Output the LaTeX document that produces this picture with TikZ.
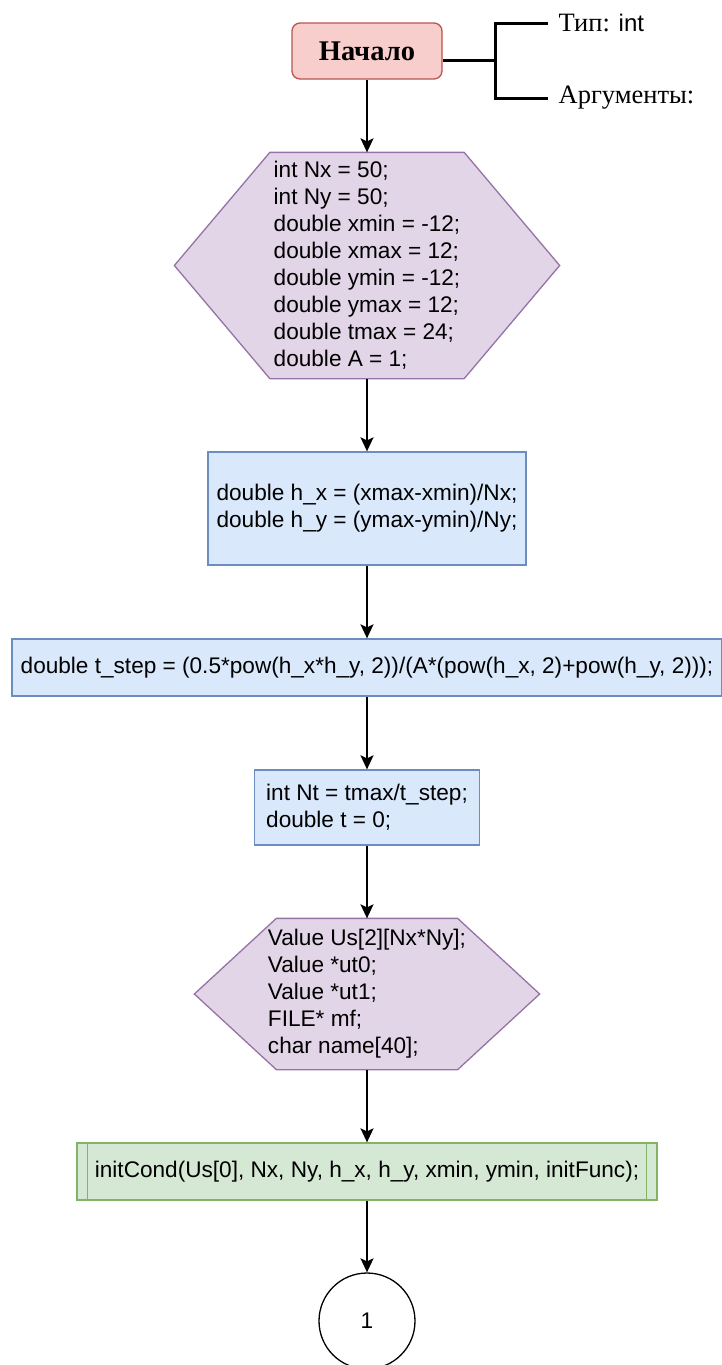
\documentclass[tikz,border=0pt]{standalone}
\usepackage{fontspec}
\setmainfont{Liberation Sans}
\newfontfamily\cyrserif{Liberation Serif}
\newfontfamily\codefont{Liberation Sans}
\usetikzlibrary{arrows.meta, backgrounds}

\definecolor{startfill}{HTML}{F8CECC}
\definecolor{startline}{HTML}{B85450}
\definecolor{declfill}{HTML}{E1D5E7}
\definecolor{declline}{HTML}{9673A6}
\definecolor{procfill}{HTML}{DAE8FC}
\definecolor{procline}{HTML}{6C8EBF}
\definecolor{callfill}{HTML}{D5E8D4}
\definecolor{callline}{HTML}{82B366}

\begin{document}
\begin{tikzpicture}[x=1pt, y=1pt, >={Stealth[length=14pt, width=13pt, inset=3pt]},
                    line width=1.8pt, font=\fontsize{22.6}{27}\selectfont]
\tikzstyle{every node}=[inner sep=0pt, line width=1.3pt]
\tikzstyle{terminal}=[shape=rectangle, rounded corners=8pt, draw=startline, fill=startfill,
                    minimum width=150pt, minimum height=56pt,
                    font=\cyrserif\bfseries\fontsize{28.5}{32}\selectfont]
\tikzstyle{decl}=[shape=rectangle, align=left]
\tikzstyle{proc}=[shape=rectangle, draw=procline, fill=procfill, align=left]
\tikzstyle{call}=[shape=rectangle, draw=callline, fill=callfill,
                    minimum width=580pt, minimum height=57pt]
\tikzstyle{conn}=[shape=circle, draw=black, minimum size=96pt]
\tikzstyle{note}=[anchor=west, font=\cyrserif\fontsize{26.5}{30}\selectfont]
\tikzstyle{bracket}=[line width=3pt]
  \useasboundingbox (0,0) rectangle (721,-1365);

  \node[terminal] (start) at (367,-51) {Начало};
  \node[decl, minimum width=384pt, minimum height=225pt]
        (vars) [node distance=214.5pt, below of=start]
        {int Nx = 50;\\int Ny = 50;\\double xmin = -12;\\double xmax = 12;\\
         double ymin = -12;\\double ymax = 12;\\double tmax = 24;\\double A = 1;};
  \node[proc, minimum width=318pt, minimum height=113pt]
        (steps) [node distance=243pt, below of=vars]
        {double h\_x = (xmax-xmin)/Nx;\\double h\_y = (ymax-ymin)/Ny;};
  \node[proc, minimum width=710pt, minimum height=57pt]
        (tstep) [node distance=159pt, below of=steps]
        {double t\_step = (0.5*pow(h\_x*h\_y, 2))/(A*(pow(h\_x, 2)+pow(h\_y, 2)));};
  \node[proc, minimum width=225pt, minimum height=75pt]
        (ntime) [node distance=140pt, below of=tstep]
        {int Nt = tmax/t\_step;\\double t = 0;};
  \node[decl, minimum width=344pt, minimum height=150pt]
        (arrs) [node distance=186.5pt, below of=ntime]
        {Value Us[2][Nx*Ny];\\Value *ut0;\\Value *ut1;\\FILE* mf;\\char name[40];};
  \node[call] (init) [node distance=177.5pt, below of=arrs]
        {initCond(Us[0], Nx, Ny, h\_x, h\_y, xmin, ymin, initFunc);};
  \node[conn] (cont) [node distance=149.5pt, below of=init] {1};

  % hexagons behind the declarations
  \begin{scope}[on background layer]
    \foreach \hx/\hcut in {vars/95.5, arrs/82}
      \filldraw[draw=declline, fill=declfill, line width=1.3pt]
        (\hx.west) -- ([xshift=\hcut pt]\hx.north west) -- ([xshift=-\hcut pt]\hx.north east)
        -- (\hx.east) -- ([xshift=-\hcut pt]\hx.south east) -- ([xshift=\hcut pt]\hx.south west)
        -- cycle;
  \end{scope}
  \draw[callline, line width=1.3pt]
        ([xshift=11pt]init.north west) -- ([xshift=11pt]init.south west)
        ([xshift=-11pt]init.north east) -- ([xshift=-11pt]init.south east);

  % comment bracket
  \node[note] (rettype) at (558,-23) {Тип: {\codefont\fontsize{24}{28}\selectfont int}};
  \node[note] (args) at (558,-98) {Аргументы:};
  \coordinate (fork) at (495,-60);
  \draw[bracket] ([yshift=-9pt]start.east) -- (fork);
  \draw[bracket] ([xshift=-10pt]rettype.west) -| (fork) |- ([xshift=-10pt]args.west);

  \path[->] (start) edge (vars);
  \path[->] (vars)  edge (steps);
  \path[->] (steps) edge (tstep);
  \path[->] (tstep) edge (ntime);
  \path[->] (ntime) edge (arrs);
  \path[->] (arrs)  edge (init);
  \path[->] (init)  edge (cont);
\end{tikzpicture}
\end{document}
